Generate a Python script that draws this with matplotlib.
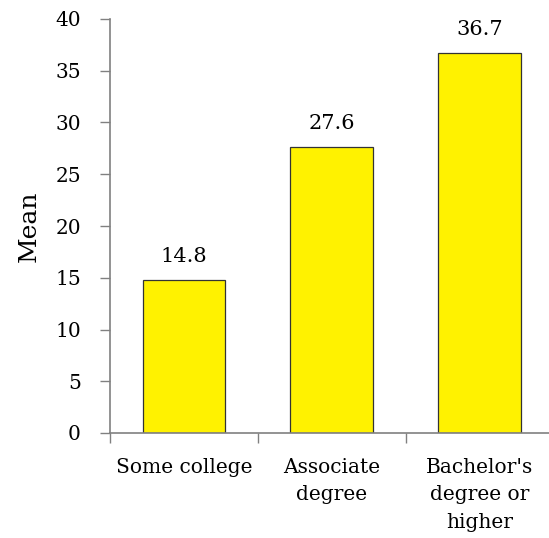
import matplotlib
matplotlib.use("Agg")
import matplotlib.pyplot as plt

categories = ["Some college", "Associate\ndegree", "Bachelor's\ndegree or\nhigher"]
means = [14.8, 27.6, 36.7]
yticks = [0, 5, 10, 15, 20, 25, 30, 35, 40]

plt.rcParams["font.family"] = ["DejaVu Serif"]

fig = plt.figure(figsize=(5.49, 5.38), dpi=100)
ax = fig.add_axes([110 / 549, 105 / 538, 443.5 / 549, 414 / 538])

x = range(len(categories))
bars = ax.bar(x, means, width=0.56, color="#FFF200", edgecolor="#333333", linewidth=0.9)
for b, v in zip(bars, means):
    ax.annotate(f"{v:.1f}", (b.get_x() + b.get_width() / 2, v), xytext=(0, 13),
                textcoords="offset points", ha="center", va="baseline", fontsize=15)

ax.set_xlim(-0.5, 2.5)
ax.set_ylim(0, 40)
ax.set_yticks(yticks)
ax.set_yticklabels([str(t) for t in yticks], fontsize=14.5)
ax.set_xticks([0, 1, 2])
ax.set_xticklabels(categories, fontsize=14.5, linespacing=1.55, va="top")
ax.tick_params(axis="x", length=0, pad=18)
ax.set_xticks([-0.5, 0.5, 1.5], minor=True)
ax.tick_params(axis="x", which="minor", length=7, color="#808080", width=1)
ax.tick_params(axis="y", length=7, color="#808080", width=1, pad=14)
ax.set_ylabel("Mean", fontsize=18, labelpad=10)

for s in ["top", "right"]:
    ax.spines[s].set_visible(False)
for s in ["left", "bottom"]:
    ax.spines[s].set_color("#808080")
    ax.spines[s].set_linewidth(1.2)

fig.savefig("out.png", dpi=100)
